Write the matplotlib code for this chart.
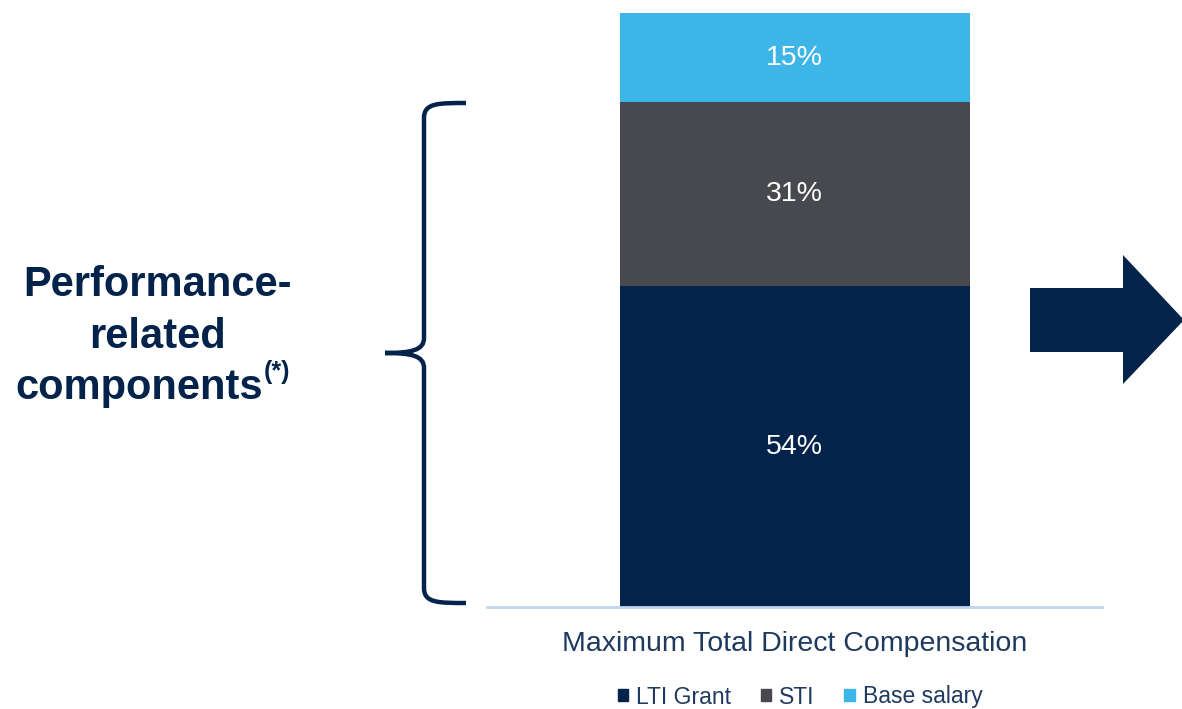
import matplotlib
matplotlib.use("Agg")
import matplotlib.pyplot as plt
from matplotlib.patches import Patch, Polygon
from matplotlib.path import Path
from matplotlib.patches import PathPatch

plt.rcParams['font.family'] = ['Liberation Sans', 'DejaVu Sans']

categories = ["Maximum Total Direct Compensation"]
series_names = ["LTI Grant", "STI", "Base salary"]
values = {"LTI Grant": [54], "STI": [31], "Base salary": [15]}
colors = {"LTI Grant": "#03234B", "STI": "#48484F", "Base salary": "#3DB5E6"}
navy = "#03234B"
text_navy = "#1F3A5F"

W, H = 1182, 709
fig = plt.figure(figsize=(W / 100, H / 100), dpi=100)
ax = fig.add_axes([487 / W, (H - 607) / H, 615 / W, 594 / H])

bottom = [0] * len(categories)
x = list(range(len(categories)))
for name in series_names:
    vals = values[name]
    bars = ax.bar(x, vals, bottom=bottom, width=350 / 615, color=colors[name], label=name)
    for b, v, bt in zip(bars, vals, bottom):
        ax.text(b.get_x() + b.get_width() / 2, bt + v / 2, f"{v}%", ha="center", va="center",
                color="white", fontsize=20.5)
    bottom = [bt + v for bt, v in zip(bottom, vals)]

ax.set_xlim(-0.5, 0.5)
ax.set_ylim(0, 100)
for s in ["top", "left", "right"]:
    ax.spines[s].set_visible(False)
ax.spines["bottom"].set_color("#BDD7EE")
ax.spines["bottom"].set_linewidth(2)
ax.set_yticks([])
ax.set_xticks(x)
ax.set_xticklabels(categories, fontsize=20.5, color=text_navy)
ax.tick_params(axis="x", length=0, pad=17)

handles = [Patch(color=colors[n]) for n in series_names]
fig.legend(handles, series_names, loc="center", bbox_to_anchor=(800 / W, (H - 697) / H),
           ncol=3, frameon=False, fontsize=16.5, handlelength=0.45, handleheight=0.45,
           handletextpad=0.35, columnspacing=1.3, labelcolor=text_navy)

# Left text
def P(px, py):
    return (px / W, (H - py) / H)

fig.text(*P(158, 285), "Performance-", ha="center", va="center",
         fontsize=30, fontweight="bold", color=navy)
fig.text(*P(158, 337), "related", ha="center", va="center",
         fontsize=30, fontweight="bold", color=navy)
fig.text(*P(263, 388), "components", ha="right", va="center",
         fontsize=30, fontweight="bold", color=navy)
fig.text(*P(264, 384), "(*)", ha="left", va="bottom",
         fontsize=18, fontweight="bold", color=navy)

# Brace
verts = [P(466, 103), P(438, 103), P(424, 103), P(424, 118),
         P(424, 338),
         P(424, 350), P(412, 353), P(385, 353),
         P(412, 353), P(424, 356), P(424, 368),
         P(424, 588),
         P(424, 603), P(438, 603), P(466, 603)]
codes = [Path.MOVETO, Path.CURVE4, Path.CURVE4, Path.CURVE4,
         Path.LINETO,
         Path.CURVE4, Path.CURVE4, Path.CURVE4,
         Path.CURVE4, Path.CURVE4, Path.CURVE4,
         Path.LINETO,
         Path.CURVE4, Path.CURVE4, Path.CURVE4]
fig.patches.append(PathPatch(Path(verts, codes), transform=fig.transFigure, fill=False,
                             edgecolor=navy, linewidth=3.2, capstyle="butt"))

# Arrow
arrow_pts = [P(1030, 288), P(1123, 288), P(1123, 255), P(1184, 320),
             P(1123, 384), P(1123, 352), P(1030, 352)]
fig.patches.append(Polygon(arrow_pts, closed=True, transform=fig.transFigure,
                           facecolor=navy, edgecolor="none"))

fig.savefig("out.png", dpi=100)
